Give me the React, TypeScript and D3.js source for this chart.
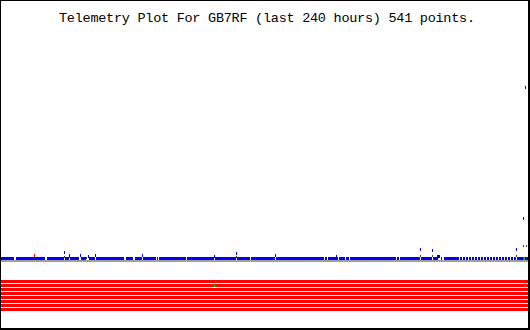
import React from "react";
import * as d3 from "d3";

const TITLE = "Telemetry Plot For GB7RF (last 240 hours) 541 points.";
const HOURS = 240;

// Analog channel 1 (blue): spans of hours with continuous samples near value 2
const blueSpans: [number, number][] = [
  [0, 5.5], [6.8, 19.6], [20.9, 28.2], [29.1, 30.5], [31.4, 35.1], [36.4, 38.3],
  [40.1, 42.4], [43.3, 55.6], [56.9, 59.7], [61.0, 63.8], [64.7, 70.1], [71.0, 71.0],
  [72.0, 83.8], [84.7, 96.5], [97.5, 106.6], [107.5, 112.9], [113.9, 124.3],
  [125.2, 146.6], [147.6, 148.0], [148.9, 153.0], [153.9, 156.2], [157.1, 158.0],
  [158.9, 179.4], [180.3, 180.8], [181.7, 190.4], [191.3, 195.8], [196.7, 198.5],
  [200.4, 200.4], [201.7, 207.2], [235.0, 240],
];
const blueBandLevel = 2;
// sparse samples near the end of the window
const blueTail = [
  207.7, 209.0, 210.4, 211.8, 213.1, 214.5, 215.9, 217.2, 218.6, 220.0,
  221.3, 222.7, 224.1, 225.4, 226.8, 228.2, 229.5, 230.9, 232.3, 233.6,
];
const blueOutT = [28.7, 31.0, 36.0, 39.6, 42.8, 64.2, 97.0, 107.0, 124.8, 152.6, 190.8, 196.3, 198.6, 199.0, 199.5, 234.5, 237.7, 238.6];
const blueOutV = [8, 5, 5, 4, 5, 5, 4, 7, 5, 4, 11, 10, 4, 4, 4, 11, 42, 173];

// Analog channel 2 (dark grey)
const darkT = [28.7, 31.0, 38.7, 97.0, 107.0, 190.8, 196.3, 234.5, 237.7, 239.1];
const darkV = [3, 3, 2, 3, 3, 4, 4, 4, 14, 14];

// Analog channel 3 (red)
const redT = [15.0, 237.7];
const redV = [5, 2];

// Analog channel 4 (green)
const greenT = [238.2];
const greenV = [2];

// Analog channel 5 (grey) constant over the window
const greyLevel = 0;

// Digital bits (8), all set over the whole window
const bits = [0, 1, 2, 3, 4, 5, 6, 7];
const bitSpans: [number, number][] = [[0, 240]];
const bitChangeT = [97.0, 238.6];

const W = 530;
const H = 330;

export default function App() {
  const x = d3.scaleLinear().domain([0, HOURS]).range([1, 528]);
  const y = d3.scaleLinear().domain([0, 220]).range([260, 40]);
  const yb = d3.scaleBand<number>().domain(bits).range([279.5, 311.5]).paddingInner(0.25).paddingOuter(0.125);

  const px = (t: number) => Math.round(x(t));
  const py = (v: number) => Math.round(y(v));

  return (
    <svg width={W} height={H} style={{ position: "fixed", left: 0, top: 0, background: "#fff" }} shapeRendering="crispEdges">
      <rect x={0} y={0} width={W} height={H} fill="#fff" />
      <text x={59} y={22} fontFamily="Liberation Mono, monospace" fontSize={13.5} textLength={416} lengthAdjust="spacing" fill="#000">
        {TITLE}
      </text>

      {/* digital bits */}
      {bits.map((b) =>
        bitSpans.map(([s, e], i) => (
          <rect key={`b${b}-${i}`} x={px(s)} y={Math.round(yb(b)!)} width={px(e) - px(s)} height={3} fill="#ff0000" />
        ))
      )}
      {bitChangeT.map((t, i) => (
        <rect key={`bc${i}`} x={px(t)} y={283} width={1} height={4} fill="#00e000" />
      ))}

      {/* grey channel */}
      <rect x={px(0)} y={py(greyLevel)} width={px(HOURS) - px(0)} height={2} fill="#a0a0a0" />

      {/* blue channel */}
      {blueSpans.map(([s, e], i) => (
        <rect key={`bs${i}`} x={px(s)} y={py(blueBandLevel) - 1} width={Math.min(px(e) + 1, 528) - px(s)} height={3} fill="#0000ff" />
      ))}
      {blueTail.map((t, i) => (
        <rect key={`bt${i}`} x={px(t)} y={py(blueBandLevel) - 1} width={2} height={3} fill="#0000ff" />
      ))}
      {darkT.map((t, i) => (
        <rect key={`d${i}`} x={px(t)} y={py(darkV[i]) - 1} width={1} height={2} fill="#404040" />
      ))}
      {blueOutT.map((t, i) => (
        <rect key={`bo${i}`} x={px(t)} y={py(blueOutV[i]) - 1} width={1} height={3} fill="#0000ff" />
      ))}
      {redT.map((t, i) => (
        <rect key={`r${i}`} x={px(t)} y={py(redV[i]) - 1} width={1} height={3} fill="#ff0000" />
      ))}
      {greenT.map((t, i) => (
        <rect key={`g${i}`} x={px(t)} y={py(greenV[i]) - 1} width={1} height={3} fill="#00e000" />
      ))}

      {/* frame */}
      <rect x={0} y={0} width={W} height={1} fill="#000" />
      <rect x={0} y={0} width={1} height={H} fill="#000" />
      <rect x={528} y={0} width={2} height={H} fill="#000" />
      <rect x={0} y={328} width={W} height={2} fill="#000" />
    </svg>
  );
}
